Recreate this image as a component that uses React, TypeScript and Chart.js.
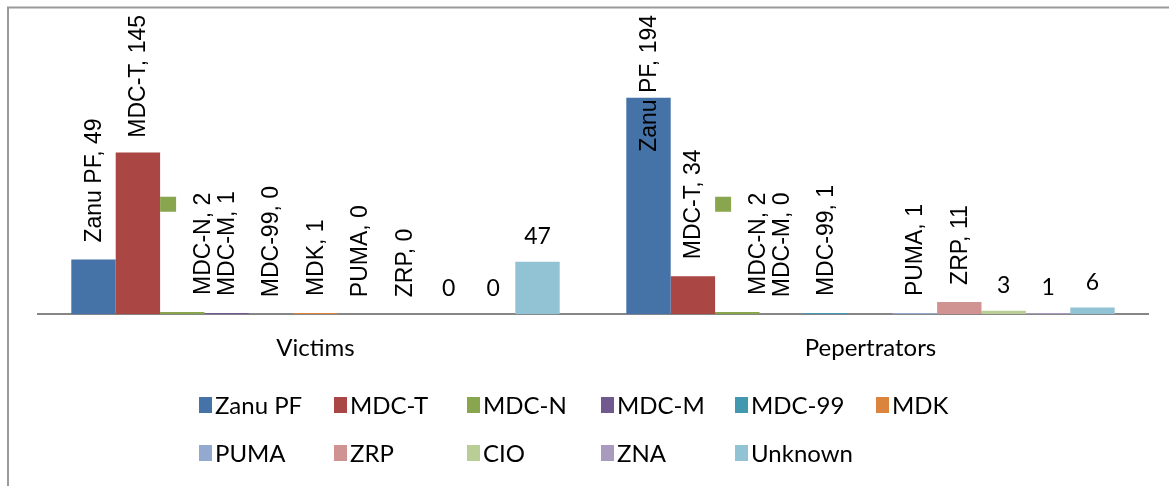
import React, { useEffect, useRef } from "react";
import { Chart, registerables } from "chart.js";

Chart.register(...registerables);

const categories = ["Victims", "Pepertrators"];
const seriesNames = ["Zanu PF", "MDC-T", "MDC-N", "MDC-M", "MDC-99", "MDK", "PUMA", "ZRP", "CIO", "ZNA", "Unknown"];
const victimsValues: (number | null)[] = [49, 145, 2, 1, 0, 1, 0, 0, 0, 0, 47];
const perpetratorsValues: (number | null)[] = [194, 34, 2, 0, 1, null, 1, 11, 3, 1, 6];
const seriesColors = ["#4572A7", "#AA4643", "#89A54E", "#71588F", "#4198AF", "#DB843D", "#93A9CF", "#D19392", "#B9CD96", "#A99BBD", "#92C3D4"];

// label style configuration
const horizontalLabelSeries = ["CIO", "ZNA", "Unknown"];
const keyLabelSeries = ["MDC-N"];
const legendColumnX = [199, 334, 467, 601, 735, 876];
const legendRowY = [405, 453];

const ROT_FONT = '23px "Liberation Sans", Arial, sans-serif';
const HOR_FONT = '23px Lato, "Open Sans", sans-serif';
const LEG_FONT = '24px Lato, "Open Sans", sans-serif';

const decorPlugin = {
  id: "decor",
  beforeDraw(chart: any) {
    const ctx = chart.ctx;
    ctx.save();
    ctx.strokeStyle = "#9A9A9A";
    ctx.lineWidth = 2;
    ctx.beginPath();
    ctx.moveTo(8, chart.height);
    ctx.lineTo(8, 7.5);
    ctx.lineTo(chart.width, 7.5);
    ctx.stroke();
    ctx.restore();
  },
  afterDatasetsDraw(chart: any) {
    const ctx = chart.ctx;
    ctx.save();
    ctx.fillStyle = "#000";
    chart.data.datasets.forEach((ds: any, i: number) => {
      const meta = chart.getDatasetMeta(i);
      meta.data.forEach((el: any, j: number) => {
        const v = ds.data[j];
        if (v === null || v === undefined) return;
        if (horizontalLabelSeries.includes(ds.label)) {
          ctx.font = HOR_FONT;
          ctx.textAlign = "center";
          ctx.textBaseline = "alphabetic";
          ctx.fillText(String(v), el.x, el.y - 18);
        } else {
          ctx.font = ROT_FONT;
          const text = `${ds.label}, ${v}`;
          const len = ctx.measureText(text).width;
          const bottom = Math.max(el.y - 17, 15 + len);
          let xc = el.x;
          if (keyLabelSeries.includes(ds.label)) {
            xc = el.x + 20;
            ctx.fillStyle = ds.backgroundColor;
            ctx.fillRect(el.x - el.width / 2, bottom - len + 4, 16, 15);
            ctx.fillStyle = "#000";
          }
          ctx.save();
          ctx.translate(xc + 1, bottom);
          ctx.rotate(-Math.PI / 2);
          ctx.textAlign = "left";
          ctx.textBaseline = "middle";
          ctx.fillText(text, 0, 0);
          ctx.restore();
        }
      });
    });
    ctx.restore();
  },
  afterDraw(chart: any) {
    const ctx = chart.ctx;
    ctx.save();
    ctx.font = LEG_FONT;
    ctx.textAlign = "left";
    ctx.textBaseline = "middle";
    chart.data.datasets.forEach((ds: any, k: number) => {
      const col = k % 6;
      const row = Math.floor(k / 6);
      const x = legendColumnX[col];
      const y = legendRowY[row];
      ctx.fillStyle = ds.backgroundColor;
      ctx.fillRect(x, y - 8, 13, 16);
      ctx.fillStyle = "#000";
      ctx.fillText(ds.label, x + 16, y + 1);
    });
    ctx.restore();
  },
};

export default function App() {
  const ref = useRef<HTMLCanvasElement>(null);
  useEffect(() => {
    if (!ref.current) return;
    const chart = new Chart(ref.current, {
      type: "bar",
      data: {
        labels: categories,
        datasets: seriesNames.map((name, i) => ({
          label: name,
          data: [victimsValues[i], perpetratorsValues[i]],
          backgroundColor: seriesColors[i],
          borderWidth: 0,
          barPercentage: 1,
          categoryPercentage: 11 / 12.5,
        })),
      },
      options: {
        responsive: false,
        animation: false,
        devicePixelRatio: 1,
        layout: { padding: { left: 38, right: 21, top: 91, bottom: 103 } },
        plugins: {
          legend: { display: false },
          tooltip: { enabled: false },
          title: { display: false },
        },
        scales: {
          x: {
            grid: { display: false, drawTicks: false },
            border: { display: true, color: "#868686", width: 2 },
            ticks: {
              padding: 20,
              color: "#000",
              font: { family: "Lato, 'Open Sans', sans-serif", size: 24 },
            },
          },
          y: {
            display: false,
            min: 0,
            max: 200,
          },
        },
      },
      plugins: [decorPlugin],
    });
    return () => chart.destroy();
  }, []);
  return (
    <div style={{ position: "fixed", left: 0, top: 0, width: 1169, height: 486, background: "#fff" }}>
      <canvas ref={ref} width={1169} height={486} />
    </div>
  );
}
